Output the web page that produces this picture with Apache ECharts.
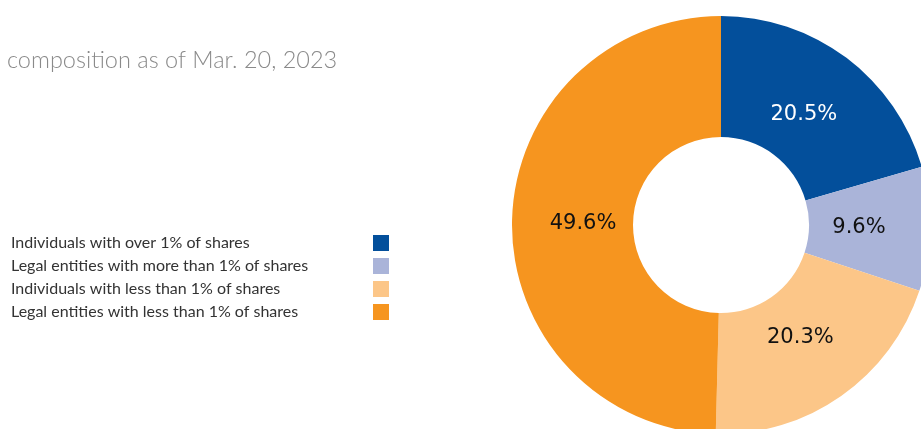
<!DOCTYPE html>
<html>
<head>
<meta charset="utf-8">
<script src="https://cdn.jsdelivr.net/npm/echarts@6/dist/echarts.min.js"></script>
<style>
  html, body { margin: 0; padding: 0; background: #fff; }
  #chart { width: 921px; height: 429px; }
</style>
</head>
<body>
<div id="chart"></div>
<script>
// Shareholder composition (percent of shares)
const categories = [
  'Individuals with over 1% of shares',
  'Legal entities with more than 1% of shares',
  'Individuals with less than 1% of shares',
  'Legal entities with less than 1% of shares'
];
const shares = [20.5, 9.6, 20.3, 49.6];
const colors = ['#034f9b', '#aab4d9', '#fcc688', '#f6951f'];
const labelColors = ['#ffffff', '#111111', '#111111', '#111111'];
const titleText = 'composition as of Mar. 20, 2023';

const pieData = categories.map((name, i) => ({
  name: name,
  value: shares[i],
  itemStyle: { color: colors[i] }
}));

const chart = echarts.init(document.getElementById('chart'), null, { renderer: 'canvas' });

const center = [721, 225];

chart.setOption({
  animation: false,
  color: colors,
  title: {
    text: titleText,
    left: 2,
    top: 43,
    textStyle: {
      fontFamily: 'Lato',
      fontWeight: 300,
      fontSize: 23.5,
      color: '#8a8a8a'
    }
  },
  legend: {
    orient: 'vertical',
    left: 6,
    top: 230,
    align: 'right',
    itemWidth: 16,
    itemHeight: 16,
    itemGap: 7,
    icon: 'rect',
    data: categories,
    // fixed-width text block so the colour keys line up in one column
    formatter: name => '{t|' + name + '}',
    textStyle: {
      rich: {
        t: {
          fontFamily: 'Lato',
          fontSize: 16,
          color: '#333333',
          width: 357,
          align: 'left'
        }
      }
    }
  },
  series: [
    {
      // the ring itself
      type: 'pie',
      center: center,
      radius: [88, 209],
      startAngle: 90,
      clockwise: true,
      silent: true,
      label: { show: false },
      labelLine: { show: false },
      data: pieData
    },
    {
      // transparent ring carrying the percentage labels a bit closer to the hole
      type: 'pie',
      center: center,
      radius: [88, 182],
      startAngle: 90,
      clockwise: true,
      silent: true,
      itemStyle: { color: 'rgba(0,0,0,0)' },
      label: {
        show: true,
        position: 'inside',
        fontFamily: 'DejaVu Sans',
        fontSize: 21,
        formatter: p => p.value.toFixed(1) + '%'
      },
      labelLine: { show: false },
      data: categories.map((name, i) => ({
        name: name,
        value: shares[i],
        itemStyle: { color: 'rgba(0,0,0,0)' },
        label: { color: labelColors[i] }
      }))
    }
  ]
});
</script>
</body>
</html>
